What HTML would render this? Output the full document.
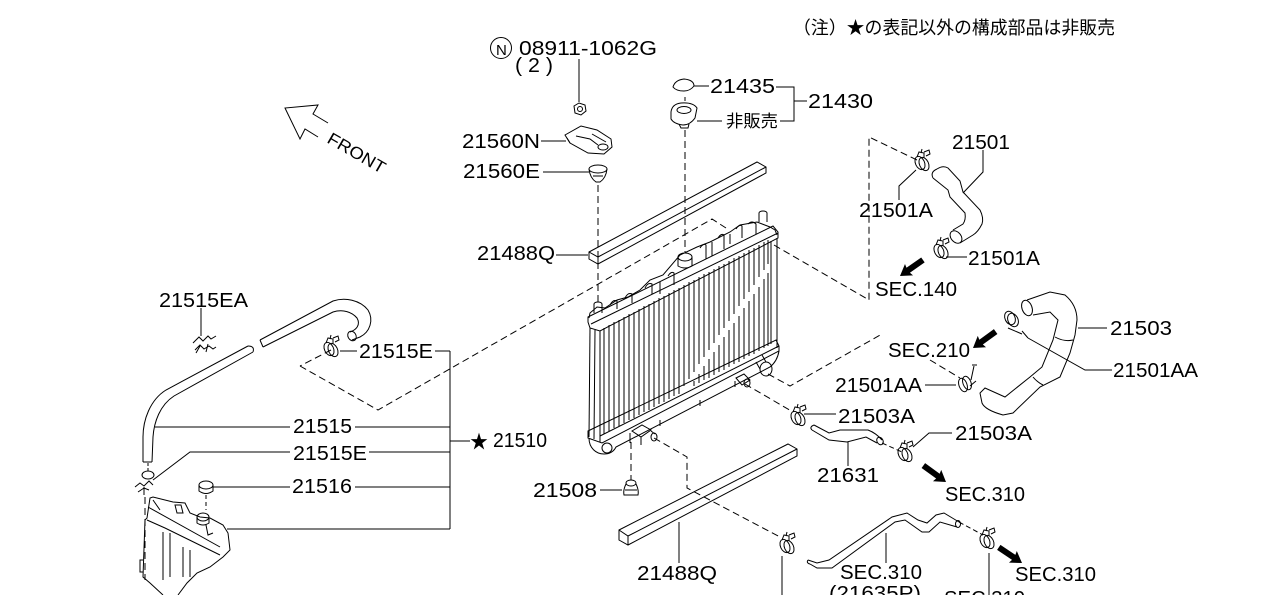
<!DOCTYPE html>
<html><head><meta charset="utf-8"><style>
html,body{margin:0;padding:0;background:#fff;}
body{width:1280px;height:595px;overflow:hidden;}
svg{display:block;}
text{fill:#000;stroke:none;}
</style></head><body>
<svg width="1280" height="595" viewBox="0 0 1280 595" xmlns="http://www.w3.org/2000/svg" font-family="'Liberation Sans', sans-serif" font-size="20">
<defs>
<g id="cl" fill="none" stroke="#000" stroke-width="1">
<ellipse cx="0" cy="0" rx="4.5" ry="7" transform="rotate(-25)"/>
<ellipse cx="4" cy="1" rx="4.5" ry="7" transform="rotate(-25 4 1)"/>
<path d="M-3,-6 l2,-5 l5,1 l0,5 M1,-10 l1,-4 M4,-11 l5,-2 l1,4 l-4,2"/>
</g>
</defs>

<!-- note -->
<text x="793" y="34" font-size="18" font-family="'Liberation Sans','Noto Sans CJK JP',sans-serif" textLength="322" lengthAdjust="spacingAndGlyphs">（注）★の表記以外の構成部品は非販売</text>

<g fill="none" stroke="#000" stroke-width="1">

<!-- FRONT arrow -->
<polyline points="328,123 313,114 318,105 285,108 300,139 305,129 318,137"/>

<!-- N circle -->
<circle cx="501" cy="48" r="10.5"/>

<!-- nut leader & nut -->
<line x1="579" y1="59" x2="579" y2="102"/>
<polygon points="574,106 579,103 585,105 586,111 581,115 575,113"/>
<circle cx="580" cy="109" r="2.5"/>

<!-- 21560N bracket -->
<path d="M565,135 L581,126 L597,130 L611,139 L612,147 L604,154 L588,153 L570,143 Z"/>
<path d="M567,138 L570,143 M576,136 L590,139 L598,145 M592,134 L606,142"/>
<ellipse cx="603" cy="147" rx="5" ry="3"/>
<line x1="541" y1="141" x2="566" y2="141"/>

<!-- 21560E grommet -->
<ellipse cx="598" cy="169" rx="9" ry="4"/>
<path d="M589,169 Q590,178 596,182 L600,182 Q606,178 607,169 M593,176 L603,176"/>
<line x1="543" y1="172" x2="589" y2="172"/>
<line x1="598" y1="185" x2="598" y2="305" stroke-dasharray="7,4"/>

<!-- cap gasket 21435 -->
<path d="M673,87 Q675,80 684,79 Q694,80 694,86 Q690,91 684,91 Q676,91 673,87 Z"/>
<line x1="694" y1="86" x2="709" y2="86"/>
<!-- radiator cap -->
<path d="M671,112 Q672,104 681,103 Q693,102 697,108 L695,118 Q690,125 683,125 Q674,124 671,119 Z"/>
<ellipse cx="684" cy="110" rx="7" ry="3.5"/>
<path d="M679,124 L681,128 L688,128 L689,124"/>
<line x1="697" y1="121" x2="722" y2="121"/>
<line x1="685" y1="97" x2="685" y2="101" />
<line x1="685" y1="130" x2="685" y2="252" stroke-dasharray="7,4"/>
<!-- 21430 bracket -->
<polyline points="776,87 794,87 794,121 780,121"/>
<line x1="794" y1="101" x2="807" y2="101"/>

<!-- top strip 21488Q -->
<polygon points="589,252 757,162 766,167 766,173 598,264 589,259"/>
<polyline points="589,252 598,257 766,167"/>
<line x1="598" y1="257" x2="598" y2="264"/>
<line x1="556" y1="255" x2="588" y2="255"/>

<!-- long dashed lines -->
<polyline points="300,366 378,410 712,219 726,228" stroke-dasharray="7,4"/>
<polyline points="774,245 869,300 869,137 917,160" stroke-dasharray="7,4"/>
<polyline points="768,374 790,386 882,334" stroke-dasharray="7,4"/>
<line x1="930" y1="360" x2="960" y2="378" stroke-dasharray="7,4"/>
<line x1="745" y1="384" x2="793" y2="412" stroke-dasharray="7,4"/>
<line x1="631" y1="442" x2="631" y2="480" stroke-dasharray="7,4"/>
<polyline points="654,438 687,457 687,488 780,537" stroke-dasharray="7,4"/>
<line x1="882" y1="443" x2="902" y2="452" stroke-dasharray="5,3"/>
<line x1="959" y1="522" x2="983" y2="535" stroke-dasharray="5,3"/>
<line x1="331" y1="350" x2="300" y2="366" stroke-dasharray="7,4"/>

<!-- RADIATOR -->
<path d="M589,318 L590,313 L597,307 L605,308 L617,300 L628,297 L640,290 L650,280 L663,275 L680,255 L697,247 L710,242 L730,232 L740,225 L757,222 L770,227 L775,230 L777,235"/>
<path d="M610,305 q3,-6 7,-4 l0,8 M625,298 q3,-6 7,-4 l0,9 M645,288 q3,-6 7,-4 l0,10 M660,282 l0,12 M668,276 q3,-5 6,-3 l0,12 M700,248 q3,-5 6,-3 l0,14 M712,242 l0,14 M718,238 q3,-5 6,-3 l0,14 M730,234 l0,10 M736,229 q3,-5 6,-3 l0,12 M748,224 q4,-4 8,0 l0,10"/>
<ellipse cx="685" cy="257" rx="7" ry="4"/>
<path d="M678,257 L678,266 Q685,270 692,266 L692,257"/>
<path d="M594,313 L594,304 A4,2 0 0 1 602,304 L602,313"/>
<path d="M759,222 L759,213 A4,2 0 0 1 767,213 L767,222"/>
<polygon points="588,317 773,226 778,232 778,238 600,331 590,328 588,322"/>
<line x1="591" y1="324" x2="778" y2="233"/>
<line x1="590" y1="328" x2="589" y2="437"/>
<line x1="600" y1="331" x2="600" y2="442"/>
<line x1="595" y1="330" x2="594" y2="439"/>
<line x1="771" y1="241" x2="771" y2="344"/>
<line x1="777" y1="238" x2="777" y2="348"/>
<polygon points="588,431 776,340 779,346 779,351 602,443 588,438"/>
<line x1="600" y1="436" x2="779" y2="346"/>
<path d="M589,438 C589,448 596,454 604,454 C610,454 614,451 616,447 L770,367 C775,363 778,357 779,351"/>
<ellipse cx="607" cy="448" rx="5" ry="5"/>
<path d="M660,420 l0,6 M700,400 l0,6 M735,381 l0,6"/>
<ellipse cx="766" cy="369" rx="6" ry="7"/>
<path d="M760,369 L756,362 M766,362 L762,355"/>
<path d="M736,378 l8,-4 l6,6 l-8,5 z"/>
<ellipse cx="747" cy="383" rx="3" ry="4"/>
<path d="M632,431 l10,-6 l9,5 l-10,7 z M641,437 l0,8 M651,431 l4,3"/>
<ellipse cx="654" cy="437" rx="3" ry="4"/>
<path d="M630,433 l0,10"/>
<path d="M604,328 V434 M609,325 V431 M614,322 V428 M619,320 V426 M624,317 V423 M629,314 V420 M634,312 V418 M639,309 V415 M644,306 V412 M649,304 V410 M654,301 V407 M659,298 V404 M664,296 V402 M669,293 V399 M674,290 V396 M679,288 V394 M684,285 V386 M689,282 V379 M694,280 V372 M694,381 V386 M699,277 V364 M699,374 V383 M704,274 V357 M704,366 V380 M709,272 V350 M709,359 V378 M714,269 V343 M714,352 V375 M719,266 V335 M719,345 V372 M724,264 V328 M724,337 V370 M729,261 V321 M729,330 V367 M734,258 V314 M734,323 V364 M739,256 V306 M739,316 V362 M744,253 V299 M744,308 V359 M749,250 V292 M749,301 V356 M754,248 V285 M754,294 V354 M759,245 V277 M759,287 V351 M764,242 V270 M764,279 V348 M768,240 V264 M768,273 V346"/>

<!-- 21508 grommet -->
<ellipse cx="631" cy="483" rx="5" ry="3"/>
<path d="M626,484 Q623,490 624,495 L638,495 Q639,490 636,484 M625,490 L637,490"/>
<line x1="600" y1="490" x2="622" y2="490"/>

<!-- bottom strip 21488Q -->
<polygon points="619,530 788,444 797,449 797,456 628,545 619,540"/>
<polyline points="619,530 628,536 797,449"/>
<line x1="628" y1="536" x2="628" y2="545"/>
<line x1="679" y1="522" x2="679" y2="563"/>

<!-- 21501 hose -->
<path d="M937,169 Q943,165 948,168 L960,181 L963,192 L980,210 Q984,218 982,224 Q978,232 973,235 L960,243"/>
<path d="M933,178 L948,190 L950,197 L965,213 Q966,220 963,224 L953,230"/>
<path d="M937,169 Q930,172 933,178"/>
<ellipse cx="956" cy="237" rx="5" ry="7" transform="rotate(-40 956 237)"/>
<polyline points="983,150 983,172 963,193"/>
<polyline points="899,200 899,186 916,170"/>
<line x1="946" y1="257" x2="967" y2="257"/>

<!-- 21503 hose -->
<path d="M1027,300 L1050,292 L1065,295 Q1077,305 1077,320 L1075,335 L1070,353 L1060,377 L1040,387 L1013,413 L1003,415 Q985,410 982,403 L980,393 L985,388 L1005,397 L1030,377 L1042,367 L1053,340 L1058,320 L1050,312 L1033,315"/>
<ellipse cx="1027" cy="308" rx="5" ry="8" transform="rotate(-20 1027 308)"/>
<path d="M1055,337 Q1064,342 1073,340 M1033,377 Q1037,382 1043,385"/>
<line x1="1078" y1="328" x2="1107" y2="328"/>
<ellipse cx="1010" cy="318" rx="5" ry="7" transform="rotate(-25 1010 318)"/>
<ellipse cx="1013" cy="320" rx="5" ry="7" transform="rotate(-25 1013 320)"/>
<path d="M1008,328 L1022,334 M1022,331 L1028,338"/>
<polyline points="1112,370 1085,370 1028,338"/>
<ellipse cx="963" cy="385" rx="4" ry="7" transform="rotate(-20 963 385)"/>
<ellipse cx="967" cy="383" rx="4" ry="7" transform="rotate(-20 967 383)"/>
<path d="M971,380 L974,366 M972,365 l5,0 M970,386 l6,-5"/>
<line x1="925" y1="385" x2="956" y2="385"/>

<!-- 21631 hose -->
<path d="M814,425 L829,433 L840,430 L868,430 Q876,433 882,440"/>
<path d="M812,430 L829,440 L847,442 L866,437 L877,443"/>
<path d="M814,425 Q809,427 812,430"/>
<ellipse cx="880" cy="441" rx="3" ry="4" transform="rotate(-30 880 441)"/>
<line x1="804" y1="414" x2="836" y2="414"/>
<line x1="848" y1="442" x2="848" y2="466"/>
<polyline points="913,447 929,433 952,433"/>

<!-- 21635P hose -->
<path d="M808,560 L817,563 L829,560 L892,517 L907,513 L918,520 L927,523 L936,515 L944,513 L959,522"/>
<path d="M810,564 L817,568 L832,568 L895,522 L905,520 L922,532 L929,532 L940,522 L957,527"/>
<path d="M808,560 Q806,563 810,564"/>
<ellipse cx="958" cy="524" rx="2.5" ry="3.5"/>
<line x1="886" y1="533" x2="886" y2="563"/>
<line x1="782" y1="556" x2="782" y2="595"/>
<line x1="989" y1="553" x2="989" y2="595"/>

<!-- 21515 hoses -->
<path d="M143,462 L143,437 C143,420 150,400 166,390 L248,346"/>
<path d="M152,462 L153,437 C154,422 160,405 174,396 L253,352"/>
<path d="M248,346 Q255,346 253,352"/>
<line x1="143" y1="462" x2="152" y2="462"/>
<path d="M260,340 L333,301 C345,297 360,300 368,310 C374,320 370,332 360,337 L352,340"/>
<path d="M263,347 L333,312 C343,309 352,312 357,318 C361,325 356,330 350,332"/>
<ellipse cx="352" cy="336" rx="4" ry="5" transform="rotate(-30 352 336)"/>
<line x1="260" y1="340" x2="263" y2="347"/>
<path d="M201,308 L201,336 M193,343 l6,-6 l4,4 l5,-5 l3,3 l5,-3 M195,350 l5,-5 l4,4 l5,-3 l4,3 l3,-2 M196,353 l4,-7 M206,352 l2,-8"/>
<line x1="340" y1="351" x2="357" y2="351"/>
<line x1="435" y1="351" x2="450" y2="351"/>
<line x1="155" y1="427" x2="290" y2="427"/>
<line x1="355" y1="427" x2="450" y2="427"/>
<polyline points="290,452 190,452 153,480"/>
<line x1="369" y1="452" x2="450" y2="452"/>
<line x1="213" y1="487" x2="290" y2="487"/>
<line x1="355" y1="487" x2="450" y2="487"/>
<line x1="227" y1="529" x2="450" y2="529"/>
<line x1="450" y1="351" x2="450" y2="529"/>
<line x1="450" y1="441" x2="470" y2="441"/>
<ellipse cx="148" cy="475" rx="6" ry="4"/>
<line x1="148" y1="463" x2="148" y2="472" stroke-dasharray="3,2"/>
<path d="M135,487 l5,-4 l4,3 l5,-5 l4,4 M138,492 l6,-4 l5,2 M144,495 l0,-8"/>
<line x1="145" y1="497" x2="145" y2="580" stroke-dasharray="7,4"/>
<ellipse cx="206" cy="485" rx="7" ry="4"/>
<path d="M199,485 L199,491 Q206,496 213,491 L213,485"/>
<line x1="206" y1="495" x2="206" y2="510" stroke-dasharray="4,3"/>
<path d="M145,520 L147,518 L150,498 L153,497 L173,502 L185,503 L190,513 L200,517 L210,518 L223,525 L228,533 L230,550 L223,557 L210,567 L197,573 L187,583 L178,595"/>
<path d="M145,520 L143,577 L150,583 L163,595"/>
<path d="M148,507 L220,547 M153,500 L160,510 M147,520 L165,528 L220,555"/>
<path d="M163,532 L163,580 M170,533 L170,577 M183,547 L183,577 M190,550 L190,577"/>
<path d="M175,505 l6,0 l2,8 l-6,0 z"/>
<ellipse cx="203" cy="517" rx="6" ry="4"/>
<path d="M197,517 L197,523 Q203,527 209,523 L209,517 M206,525 l2,10 l5,-2"/>
<path d="M143,560 l-3,0 l0,12 l3,0"/>

</g>

<use href="#cl" x="920" y="163"/>
<use href="#cl" x="939" y="251"/>
<use href="#cl" x="329" y="349"/>
<use href="#cl" x="796" y="418"/>
<use href="#cl" x="903" y="454"/>
<use href="#cl" x="785" y="546"/>
<use href="#cl" x="985" y="541"/>

<g fill="#000" stroke="none">
<polygon points="0,0 -11,-7 -10,-3 -28,-3 -28,3 -10,3 -11,7" transform="translate(900,276) rotate(145)"/>
<polygon points="0,0 -11,-7 -10,-3 -28,-3 -28,3 -10,3 -11,7" transform="translate(973,348) rotate(144)"/>
<polygon points="0,0 -11,-7 -10,-3 -28,-3 -28,3 -10,3 -11,7" transform="translate(946,482) rotate(36)"/>
<polygon points="0,0 -11,-7 -10,-3 -28,-3 -28,3 -10,3 -11,7" transform="translate(1022,563) rotate(34)"/>
</g>

<g>
<text x="496" y="55" font-size="15">N</text>
<text x="519" y="55" textLength="138" lengthAdjust="spacingAndGlyphs">08911-1062G</text>
<text x="515" y="72" textLength="38" lengthAdjust="spacingAndGlyphs">( 2 )</text>
<text x="710" y="93" textLength="65" lengthAdjust="spacingAndGlyphs">21435</text>
<text x="808" y="108" textLength="65" lengthAdjust="spacingAndGlyphs">21430</text>
<text x="726" y="127" font-size="17" font-family="'Liberation Sans','Noto Sans CJK JP',sans-serif" textLength="52" lengthAdjust="spacingAndGlyphs">非販売</text>
<text x="462" y="148" textLength="78" lengthAdjust="spacingAndGlyphs">21560N</text>
<text x="463" y="178" textLength="77" lengthAdjust="spacingAndGlyphs">21560E</text>
<text x="477" y="260" textLength="78" lengthAdjust="spacingAndGlyphs">21488Q</text>
<text x="952" y="149" textLength="58" lengthAdjust="spacingAndGlyphs">21501</text>
<text x="859" y="217" textLength="74" lengthAdjust="spacingAndGlyphs">21501A</text>
<text x="968" y="265" textLength="72" lengthAdjust="spacingAndGlyphs">21501A</text>
<text x="875" y="296" textLength="82" lengthAdjust="spacingAndGlyphs">SEC.140</text>
<text x="1110" y="335" textLength="62" lengthAdjust="spacingAndGlyphs">21503</text>
<text x="888" y="357" textLength="82" lengthAdjust="spacingAndGlyphs">SEC.210</text>
<text x="1113" y="377" textLength="85" lengthAdjust="spacingAndGlyphs">21501AA</text>
<text x="835" y="392" textLength="87" lengthAdjust="spacingAndGlyphs">21501AA</text>
<text x="838" y="423" textLength="77" lengthAdjust="spacingAndGlyphs">21503A</text>
<text x="955" y="440" textLength="77" lengthAdjust="spacingAndGlyphs">21503A</text>
<text x="817" y="482" textLength="62" lengthAdjust="spacingAndGlyphs">21631</text>
<text x="945" y="501" textLength="80" lengthAdjust="spacingAndGlyphs">SEC.310</text>
<text x="533" y="497" textLength="64" lengthAdjust="spacingAndGlyphs">21508</text>
<text x="637" y="580" textLength="80" lengthAdjust="spacingAndGlyphs">21488Q</text>
<text x="840" y="579" textLength="82" lengthAdjust="spacingAndGlyphs">SEC.310</text>
<text x="829" y="600" textLength="92" lengthAdjust="spacingAndGlyphs">(21635P)</text>
<text x="944" y="605" textLength="81" lengthAdjust="spacingAndGlyphs">SEC.310</text>
<text x="1015" y="581" textLength="81" lengthAdjust="spacingAndGlyphs">SEC.310</text>
<text x="159" y="307" textLength="89" lengthAdjust="spacingAndGlyphs">21515EA</text>
<text x="359" y="358" textLength="74" lengthAdjust="spacingAndGlyphs">21515E</text>
<text x="293" y="433" textLength="59" lengthAdjust="spacingAndGlyphs">21515</text>
<text x="293" y="460" textLength="74" lengthAdjust="spacingAndGlyphs">21515E</text>
<text x="292" y="493" textLength="60" lengthAdjust="spacingAndGlyphs">21516</text>
<text x="470" y="448" font-size="19" font-family="'Noto Sans CJK JP',sans-serif" textLength="18" lengthAdjust="spacingAndGlyphs">★</text>
<text x="493" y="447" textLength="54" lengthAdjust="spacingAndGlyphs">21510</text>
<text x="0" y="0" font-size="17" textLength="64" lengthAdjust="spacingAndGlyphs" transform="translate(326,142) rotate(30)">FRONT</text>
</g>
</svg>
</body></html>
